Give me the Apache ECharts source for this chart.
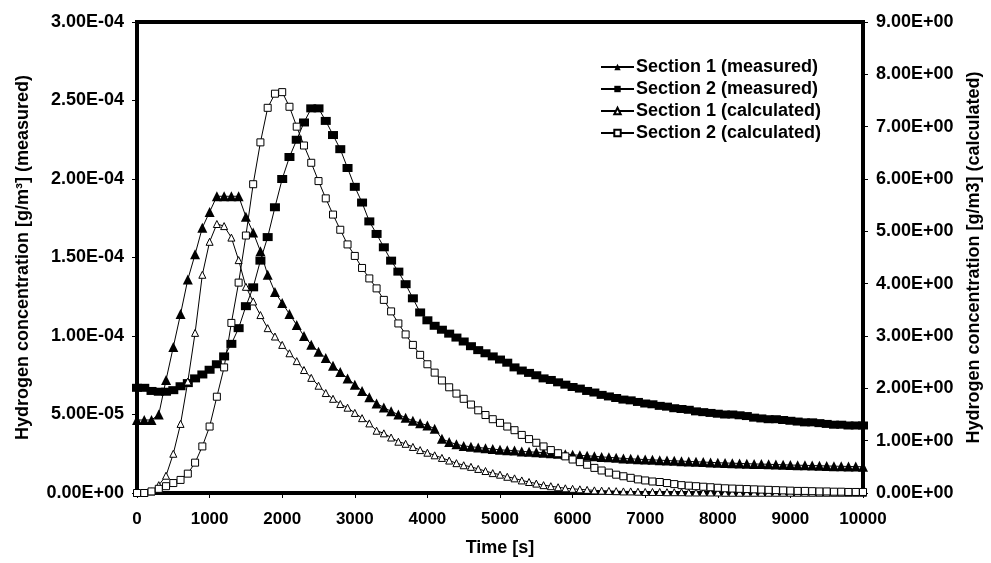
<!DOCTYPE html>
<html><head><meta charset="utf-8">
<script src="https://cdn.jsdelivr.net/npm/echarts@6/dist/echarts.min.js"></script>
<style>html,body{margin:0;padding:0;background:#fff}#c{width:991px;height:563px}</style>
</head><body><div id="c"></div>
<script>
// sample times (s), every 100 s from 0 to 10000
const times = Array.from({length:101},(_,i)=>i*100);
// Section 1 measured, units of 1e-4 g/m3 (left axis)
const s1Measured = [0.465,0.465,0.465,0.50,0.72,0.93,1.14,1.36,1.52,1.69,
1.79,1.89,1.89,1.89,1.89,1.76,1.66,1.54,1.39,1.28,
1.21,1.14,1.07,1.00,0.945,0.90,0.86,0.81,0.77,0.73,
0.69,0.65,0.61,0.57,0.545,0.52,0.50,0.48,0.46,0.445,
0.43,0.41,0.345,0.325,0.31,0.30,0.295,0.29,0.285,0.28,
0.275,0.272,0.27,0.265,0.262,0.26,0.257,0.253,0.25,0.247,
0.244,0.24,0.237,0.234,0.23,0.227,0.224,0.22,0.218,0.215,
0.213,0.211,0.209,0.207,0.205,0.203,0.201,0.199,0.197,0.195,
0.193,0.191,0.19,0.188,0.187,0.185,0.184,0.183,0.181,0.18,
0.178,0.177,0.176,0.175,0.174,0.172,0.171,0.17,0.169,0.168,0.167];
// Section 2 measured, units of 1e-4 g/m3 (left axis)
const s2Measured = [0.67,0.67,0.65,0.645,0.645,0.655,0.68,0.70,0.73,0.755,
0.785,0.82,0.87,0.95,1.05,1.19,1.31,1.48,1.63,1.82,
2.00,2.14,2.25,2.36,2.45,2.45,2.37,2.28,2.19,2.07,
1.95,1.85,1.73,1.65,1.565,1.48,1.41,1.33,1.24,1.15,
1.10,1.065,1.04,1.015,0.99,0.965,0.935,0.91,0.89,0.87,
0.85,0.83,0.80,0.78,0.765,0.75,0.73,0.72,0.705,0.69,
0.675,0.665,0.65,0.64,0.625,0.615,0.605,0.595,0.59,0.58,
0.57,0.565,0.555,0.55,0.54,0.535,0.53,0.52,0.515,0.51,
0.505,0.50,0.50,0.495,0.49,0.48,0.475,0.47,0.47,0.465,
0.46,0.455,0.45,0.45,0.445,0.44,0.435,0.435,0.43,0.43,0.43];
// Section 1 calculated, g/m3 (right axis)
const s1Calculated = [0,0,0.03,0.15,0.33,0.75,1.32,2.13,3.06,4.17,
4.80,5.14,5.10,4.88,4.45,3.94,3.66,3.40,3.15,2.99,
2.83,2.67,2.52,2.35,2.20,2.05,1.91,1.80,1.70,1.63,
1.53,1.43,1.33,1.19,1.14,1.06,0.98,0.94,0.88,0.82,
0.77,0.72,0.67,0.62,0.57,0.53,0.50,0.46,0.42,0.38,
0.35,0.31,0.28,0.24,0.21,0.18,0.15,0.13,0.11,0.09,
0.08,0.07,0.06,0.05,0.045,0.04,0.035,0.03,0.03,0.025,
0.02,0.02,0.02,0.015,0.015,0.015,0.01,0.01,0.01,0.01,
0.01,0.005,0.005,0.005,0.005,0.005,0.005,0.005,0.005,0.005,
0.005,0.005,0.005,0.005,0.005,0.005,0.005,0.005,0.005,0.005,0.005];
// Section 2 calculated, g/m3 (right axis)
const s2Calculated = [0,0,0.03,0.08,0.13,0.19,0.25,0.37,0.58,0.89,
1.27,1.84,2.40,3.25,4.02,4.92,5.90,6.70,7.36,7.63,
7.66,7.38,7.00,6.64,6.31,5.96,5.63,5.32,5.03,4.75,
4.53,4.30,4.10,3.91,3.69,3.47,3.24,3.03,2.83,2.64,
2.46,2.30,2.15,2.02,1.90,1.80,1.69,1.58,1.49,1.41,
1.34,1.27,1.20,1.11,1.03,0.96,0.89,0.82,0.76,0.70,
0.64,0.59,0.54,0.48,0.43,0.39,0.35,0.32,0.29,0.26,
0.24,0.22,0.21,0.19,0.17,0.15,0.14,0.13,0.12,0.11,
0.10,0.09,0.085,0.08,0.075,0.07,0.065,0.06,0.055,0.05,
0.045,0.04,0.04,0.035,0.03,0.03,0.025,0.025,0.02,0.02,0.02];
const names = ['Section 1 (measured)','Section 2 (measured)','Section 1 (calculated)','Section 2 (calculated)'];

function fmtE(v){
  const s = Number(v).toExponential(2);
  const parts = s.split('e');
  const sign = parts[1][0];
  const d = parts[1].slice(1).padStart(2,'0');
  return parts[0]+'E'+sign+d;
}
const FONT = 'Liberation Sans, Arial, sans-serif';
const pair = (arr,scale)=>arr.map((v,i)=>[times[i], v*scale]);

const chart = echarts.init(document.getElementById('c'),null,{renderer:'canvas'});
const lbl = {color:'#000',fontWeight:'bold',fontFamily:FONT,fontSize:17};
chart.setOption({
  animation:false,
  backgroundColor:'#fff',
  grid:{left:137,right:123,top:22,bottom:70,show:true,borderColor:'#000',borderWidth:4,backgroundColor:'transparent'},
  legend:{
    orient:'vertical', left:595, top:53, itemWidth:33, itemHeight:8, itemGap:4,
    data:names,
    textStyle:{color:'#000',fontWeight:'bold',fontFamily:FONT,fontSize:18,lineHeight:18,padding:[0,0,0,-3]}
  },
  xAxis:{
    type:'value', min:0, max:10000, interval:1000,
    name:'Time [s]', nameLocation:'middle', nameGap:46,
    nameTextStyle:{color:'#000',fontWeight:'bold',fontFamily:FONT,fontSize:18},
    axisLine:{lineStyle:{color:'#000',width:4}},
    axisTick:{show:true,length:5,lineStyle:{color:'#000',width:1}},
    axisLabel:Object.assign({margin:18,formatter:v=>String(v)},lbl),
    splitLine:{show:false}
  },
  yAxis:[{
    type:'value', min:0, max:3e-4, interval:5e-5, position:'left',
    name:'Hydrogen concentration [g/m\u00b3] (measured)', nameLocation:'middle', nameGap:105,
    nameTextStyle:{color:'#000',fontWeight:'bold',fontFamily:FONT,fontSize:18},
    axisLine:{show:true,lineStyle:{color:'#000',width:4}},
    axisTick:{show:true,length:5,lineStyle:{color:'#000',width:1}},
    axisLabel:Object.assign({margin:13,formatter:fmtE},lbl,{fontSize:18}),
    splitLine:{show:false}
  },{
    type:'value', min:0, max:9, interval:1, position:'right',
    name:'Hydrogen concentration [g/m3] (calculated)', nameLocation:'middle', nameGap:102, nameRotate:90,
    nameTextStyle:{color:'#000',fontWeight:'bold',fontFamily:FONT,fontSize:18},
    axisLine:{show:true,lineStyle:{color:'#000',width:4}},
    axisTick:{show:true,length:5,lineStyle:{color:'#000',width:1}},
    axisLabel:Object.assign({margin:13,formatter:fmtE},lbl,{fontSize:18}),
    splitLine:{show:false}
  }],
  series:[
    {name:names[0],type:'line',yAxisIndex:0,data:pair(s1Measured,1e-4),symbol:'triangle',symbolSize:10,
     lineStyle:{color:'#000',width:1},itemStyle:{color:'#000',borderColor:'#000',borderWidth:0}},
    {name:names[1],type:'line',yAxisIndex:0,data:pair(s2Measured,1e-4),symbol:'rect',symbolSize:[10,8],
     lineStyle:{color:'#000',width:1},itemStyle:{color:'#000',borderColor:'#000',borderWidth:0}},
    {name:names[2],type:'line',yAxisIndex:1,data:pair(s1Calculated,1),symbol:'triangle',symbolSize:7,
     lineStyle:{color:'#000',width:1},itemStyle:{color:'#fff',borderColor:'#000',borderWidth:1}},
    {name:names[3],type:'line',yAxisIndex:1,data:pair(s2Calculated,1),symbol:'rect',symbolSize:7,
     lineStyle:{color:'#000',width:1},itemStyle:{color:'#fff',borderColor:'#000',borderWidth:1}}
  ]
});
</script></body></html>
